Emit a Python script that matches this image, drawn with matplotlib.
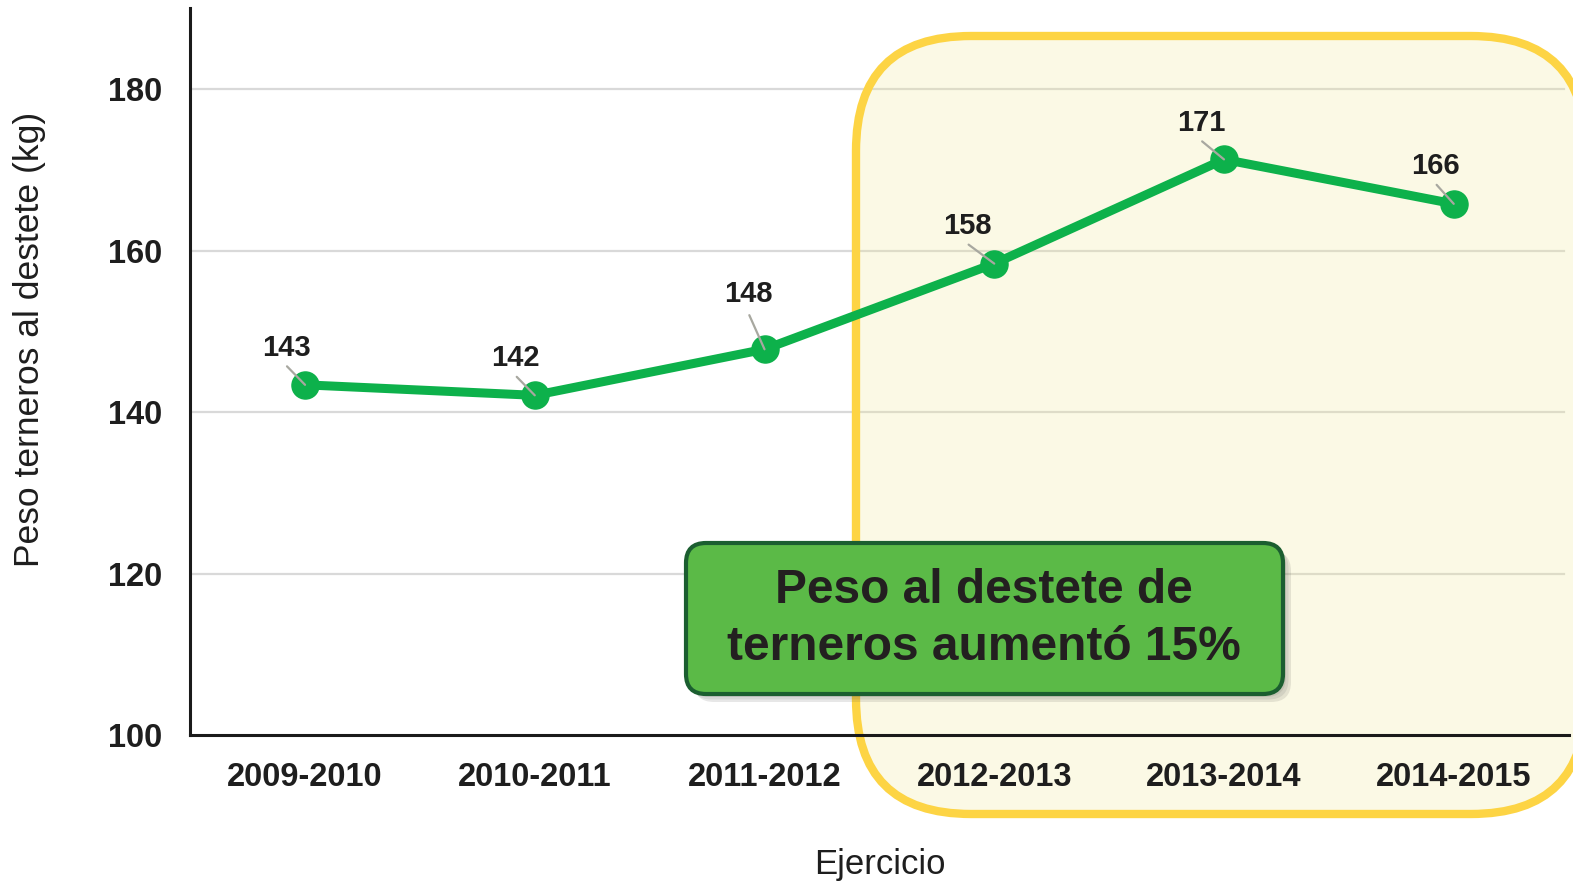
import matplotlib
matplotlib.use("Agg")
from matplotlib import pyplot as plt
from matplotlib.patches import FancyBboxPatch

plt.rcParams['font.family'] = ['Liberation Sans', 'DejaVu Sans']

ejercicios = ["2009-2010", "2010-2011", "2011-2012", "2012-2013", "2013-2014", "2014-2015"]
peso = [143.4, 142.1, 147.8, 158.4, 171.3, 165.8]
y_ticks = [100, 120, 140, 160, 180]
mensaje = "Peso al destete de\nterneros aumentó 15%"

verde = '#0DB14B'
texto = '#1E1E1E'

fig = plt.figure(figsize=(15.73, 8.82), dpi=100)
ax = fig.add_axes([0.1209, 0.1661, 0.8763, 0.8245])
x = list(range(len(ejercicios)))

ax.set_axisbelow(False)
for t in y_ticks[1:]:
    ax.axhline(t, xmax=0.997, color='#D9D9D9', linewidth=1.6, zorder=0.5)
ax.set_xlim(-0.5, len(ejercicios) - 0.5)
ax.set_ylim(100, 190)
ax.set_yticks(y_ticks)
ax.set_xticks(x)
ax.set_xticklabels(ejercicios)
ax.tick_params(axis='both', length=0, labelsize=23.5, colors=texto)
ax.tick_params(axis='y', pad=20)
ax.tick_params(axis='x', pad=19)
for lab in ax.get_xticklabels() + ax.get_yticklabels():
    lab.set_fontweight('bold')
for s in ['top', 'right']:
    ax.spines[s].set_visible(False)
for s in ['left', 'bottom']:
    ax.spines[s].set_linewidth(2.2)
    ax.spines[s].set_color('#1A1A1A')

ax.set_ylabel("Peso terneros al destete (kg)", fontsize=25.5, color=texto)
ax.yaxis.set_label_coords(-0.1045, 0.545)
ax.set_xlabel("Ejercicio", fontsize=25, color=texto, labelpad=40)

# recuadro amarillo (en pulgadas de la figura)
amarillo = FancyBboxPatch((8.56, 0.68), 7.3, 7.78,
                          boxstyle="round,pad=0,rounding_size=1.15",
                          transform=fig.dpi_scale_trans, clip_on=False,
                          facecolor=(0.94, 0.91, 0.55, 0.22), edgecolor='#FDD444',
                          linewidth=6, zorder=1)
ax.add_patch(amarillo)

ax.plot(x, peso, color=verde, linewidth=6.5, marker='o', markersize=19.5,
        solid_capstyle='round', zorder=3)

# etiquetas con lineas guia
label_offsets = [(-19, 37), (-19, 37), (-16, 55), (-27, 38), (-23, 36), (-18, 38)]
for xi, yi, (dx, dy) in zip(x, peso, label_offsets):
    ax.annotate("", xy=(xi, yi), xytext=(dx * 0.95, dy * 0.5 if dy < 50 else dy * 0.62),
                textcoords='offset pixels',
                arrowprops=dict(arrowstyle='-', color='#A8A8A0', lw=1.6,
                                shrinkA=0, shrinkB=0), zorder=4)
    ax.annotate("%.0f" % yi, xy=(xi, yi), xytext=(dx, dy), textcoords='offset pixels',
                ha='center', va='center', fontsize=21, fontweight='bold',
                color=texto, zorder=4)

# recuadro verde con sombra
for i, a in enumerate([0.10, 0.10, 0.12]):
    off = 0.03 + 0.025 * i
    sombra = FancyBboxPatch((6.86 + off, 1.88 - off), 5.97, 1.51,
                            boxstyle="round,pad=0,rounding_size=0.2",
                            transform=fig.dpi_scale_trans, clip_on=False,
                            facecolor='#404040', edgecolor='none', alpha=a, zorder=5)
    ax.add_patch(sombra)
caja = FancyBboxPatch((6.86, 1.88), 5.97, 1.51,
                      boxstyle="round,pad=0,rounding_size=0.2",
                      transform=fig.dpi_scale_trans, clip_on=False,
                      facecolor='#5BBA47', edgecolor='#1B5E30', linewidth=3, zorder=6)
ax.add_patch(caja)
ax.text(9.84, 2.63, mensaje, transform=fig.dpi_scale_trans, ha='center', va='center',
        fontsize=34.5, fontweight='bold', color='#231F20', linespacing=1.36, zorder=7)

fig.savefig("out.png", dpi=100)
